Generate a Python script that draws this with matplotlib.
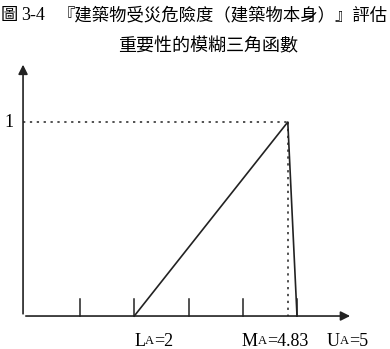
import matplotlib.pyplot as plt
from matplotlib import transforms

# puntos del número borroso triangular
x_tri = [2, 4.83, 5]
y_tri = [0, 1, 0]
ticks_x = [1, 2, 3, 4, 5]
lab_nombres = ["L", "M", "U"]
lab_valores = ["=2", "=4.83", "=5"]
lab_pos = [2, 4.83 - 0.85, 5.55]

titulo1_a = "圖"
titulo1_b = "3-4"
titulo1_c = "『建築物受災危險度（建築物本身）』評估"
titulo2 = "重要性的模糊三角函數"

fig = plt.figure(figsize=(3.9, 3.49), dpi=100)
ax = fig.add_axes([0, 0, 1, 1])
ax.set_xlim(-0.4747, 6.714)
ax.set_ylim(-0.170, 1.629)
ax.axis("off")

# ejes con flechas
ax.annotate("", xy=(6.03, 0), xytext=(-0.05, 0),
            arrowprops=dict(arrowstyle="-|>", color="#222222", lw=1.2, mutation_scale=14))
ax.annotate("", xy=(-0.05, 1.31), xytext=(-0.05, -0.003),
            arrowprops=dict(arrowstyle="-|>", color="#222222", lw=1.2, mutation_scale=14))

# marcas del eje x
for t in ticks_x:
    ax.plot([t, t], [0, 0.088], color="#222222", lw=1.1)

# líneas punteadas
ax.plot([-0.05, x_tri[1]], [1, 1], color="#222222", lw=1.1, linestyle=(0, (1.5, 3)))
ax.plot([x_tri[1], x_tri[1]], [1, 0], color="#222222", lw=1.1, linestyle=(0, (1.5, 3)))

# triángulo
ax.plot(x_tri, y_tri, color="#222222", lw=1.2)

ax.text(-0.39, 1, "1", fontsize=13, family="Liberation Serif", ha="left", va="center")

# etiquetas L_A, M_A, U_A
for nom, val, xp in zip(lab_nombres, lab_valores, lab_pos):
    t1 = ax.text(xp, -0.085, nom, fontsize=13, family="Liberation Serif", ha="left", va="top")
    fig.canvas.draw()
    bb = t1.get_window_extent()
    tr = transforms.offset_copy(ax.transData, fig=fig, x=bb.width, y=0, units="dots")
    t2 = ax.text(xp, -0.085 - 0.012, "A", fontsize=9, family="Liberation Serif", ha="left", va="top", transform=tr)
    fig.canvas.draw()
    bb2 = t2.get_window_extent()
    tr2 = transforms.offset_copy(ax.transData, fig=fig, x=bb.width + bb2.width, y=0, units="dots")
    ax.text(xp, -0.085, val, fontsize=13, family="Liberation Serif", ha="left", va="top", transform=tr2)

# títulos
fig.text(1 / 390, 1 - 15 / 349, titulo1_a, fontsize=12.5, family=["Noto Sans CJK TC"], ha="left", va="center")
fig.text(21 / 390, 1 - 15 / 349, titulo1_b, fontsize=13, family=["Liberation Serif"], ha="left", va="center")
fig.text(58 / 390, 1 - 15 / 349, titulo1_c, fontsize=12.5, family=["Noto Sans CJK TC"], ha="left", va="center")
fig.text(208 / 390, 1 - 46 / 349, titulo2, fontsize=13, family=["Noto Sans CJK TC"], ha="center", va="center")

fig.savefig("out.png", dpi=100)
